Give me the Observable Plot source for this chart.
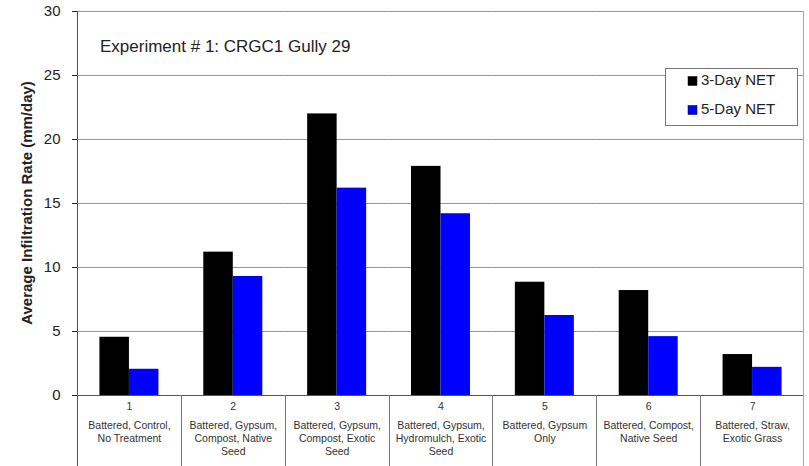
<!DOCTYPE html>
<html>
<head>
<meta charset="utf-8">
<script src="https://cdn.jsdelivr.net/npm/d3@7"></script>
<script src="https://cdn.jsdelivr.net/npm/@observablehq/plot@0.6"></script>
<style>
  html, body { margin: 0; padding: 0; background: #fff; }
  #chart { width: 809px; height: 466px; overflow: hidden; }
</style>
</head>
<body>
<div id="chart"></div>
<script>
const treatmentIds = ["1", "2", "3", "4", "5", "6", "7"];
const treatmentLabels = [
  "Battered, Control,\nNo Treatment",
  "Battered, Gypsum,\nCompost, Native\nSeed",
  "Battered, Gypsum,\nCompost, Exotic\nSeed",
  "Battered, Gypsum,\nHydromulch, Exotic\nSeed",
  "Battered, Gypsum\nOnly",
  "Battered, Compost,\nNative Seed",
  "Battered, Straw,\nExotic Grass"
];
const seriesNames = ["3-Day NET", "5-Day NET"];
const threeDayNET = [4.55, 11.2, 22.0, 17.9, 8.85, 8.2, 3.2];
const fiveDayNET = [2.05, 9.3, 16.2, 14.2, 6.25, 4.6, 2.2];
const yTicks = [0, 5, 10, 15, 20, 25, 30];
const seriesColors = ["#000000", "#0000ff"];
const yLabel = "Average Infiltration Rate (mm/day)";
const annotation = "Experiment # 1: CRGC1 Gully 29";

const data = treatmentIds.flatMap((id, i) => [
  {id, series: seriesNames[0], value: threeDayNET[i]},
  {id, series: seriesNames[1], value: fiveDayNET[i]}
]);

const W = 809, H = 466;
const chart = Plot.plot({
  width: W,
  height: H,
  marginLeft: 77,
  marginRight: 5,
  marginTop: 11,
  marginBottom: 71,
  style: {fontFamily: "'Liberation Sans', Arial, sans-serif", fontSize: "15px", color: "#222", background: "#fff"},
  fx: {domain: treatmentIds, padding: 0, round: false, axis: null},
  x: {domain: seriesNames, paddingInner: 0, paddingOuter: 0.76, round: false, axis: null},
  y: {domain: [0, 30], ticks: yTicks, tickSize: 5, tickPadding: 12, label: null},
  color: {domain: seriesNames, range: seriesColors},
  marks: [
    Plot.ruleY(yTicks.filter(t => t > 0), {stroke: "#959595", strokeWidth: 1}),
    Plot.barY(data, {fx: "id", x: "series", y: "value", fill: "series"}),
    Plot.ruleY([0], {stroke: "#555", strokeWidth: 1}),
    Plot.text(treatmentIds, {fx: d => d, text: d => d, frameAnchor: "bottom", dy: 14, fontSize: 10.5, fill: "#333"}),
    Plot.text(treatmentIds, {fx: d => d, text: (d, i) => treatmentLabels[i], frameAnchor: "bottom", lineAnchor: "top", dy: 24, lineHeight: 1.25, fontSize: 10.5, fill: "#333"})
  ]
});

document.getElementById("chart").appendChild(chart);

const svg = d3.select(chart.tagName.toLowerCase() === "svg" ? chart : chart.querySelector("svg"));
const fx = chart.scale("fx");
const y = chart.scale("y");
const y0 = y.apply(0), yTop = y.apply(30);
const bw = fx.bandwidth;
const left = fx.apply(treatmentIds[0]);
const right = fx.apply(treatmentIds[treatmentIds.length - 1]) + bw;

const g = svg.append("g").attr("text-anchor", "start");
// table separators below the axis
treatmentIds.slice(1).forEach(id => {
  const xx = Math.round(fx.apply(id)) + 0.5;
  g.append("line").attr("x1", xx).attr("x2", xx).attr("y1", y0).attr("y2", H)
    .attr("stroke", "#777").attr("stroke-width", 1);
});
// left axis / table border
g.append("line").attr("x1", Math.round(left) + 0.5).attr("x2", Math.round(left) + 0.5)
  .attr("y1", yTop).attr("y2", H).attr("stroke", "#555").attr("stroke-width", 1);
// right border
g.append("line").attr("x1", Math.round(right) - 0.5).attr("x2", Math.round(right) - 0.5)
  .attr("y1", yTop).attr("y2", H).attr("stroke", "#aaa").attr("stroke-width", 1);

// y-axis title
g.append("text")
  .attr("transform", `translate(28,${(y0 + yTop) / 2}) rotate(-90)`)
  .attr("text-anchor", "middle").attr("dominant-baseline", "middle")
  .attr("font-weight", "bold").attr("font-size", 15).attr("fill", "#222")
  .text(yLabel);

// annotation
g.append("text").attr("x", 100).attr("y", 52).attr("text-anchor", "start")
  .attr("font-size", 17).attr("fill", "#222").text(annotation);

// legend
const lg = g.append("g");
lg.append("rect").attr("x", 665.5).attr("y", 68.5).attr("width", 132).attr("height", 57)
  .attr("fill", "#fff").attr("stroke", "#777");
seriesNames.forEach((s, i) => {
  const yy = 81 + i * 29;
  lg.append("rect").attr("x", 688).attr("y", yy - 4.5).attr("width", 9).attr("height", 9)
    .attr("fill", seriesColors[i]).attr("stroke", "#000").attr("stroke-width", 0.5);
  lg.append("text").attr("x", 701).attr("y", yy).attr("text-anchor", "start").attr("dominant-baseline", "middle")
    .attr("font-size", 15).attr("fill", "#222").text(s);
});
</script>
</body>
</html>
